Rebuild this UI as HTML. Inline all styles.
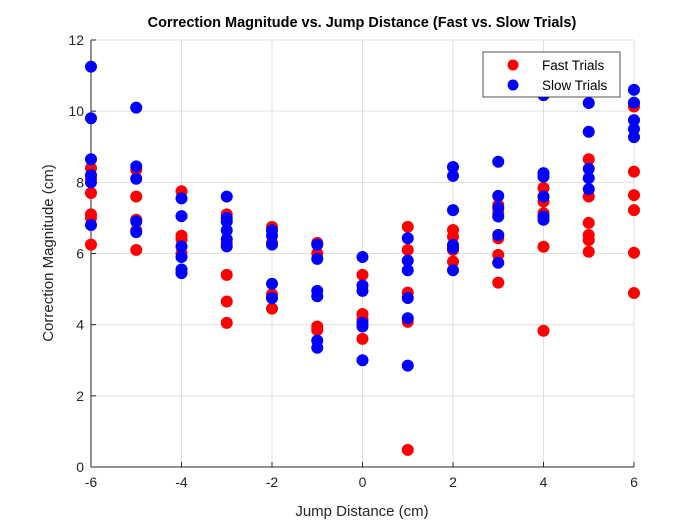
<!DOCTYPE html>
<html><head><meta charset="utf-8"><style>
body{margin:0;background:#fff;}
svg text{font-family:"Liberation Sans",sans-serif;}
</style></head><body>
<svg id="chart" width="700" height="525" xmlns="http://www.w3.org/2000/svg">
<rect width="700" height="525" fill="#fff"/>
<g id="grid"></g><g id="axes"></g><g id="marks"></g>
<text x="362" y="27" text-anchor="middle" font-size="14.5" font-weight="bold" fill="#000">Correction Magnitude vs. Jump Distance (Fast vs. Slow Trials)</text>
<text x="362" y="516" text-anchor="middle" font-size="15" fill="#262626">Jump Distance (cm)</text>
<text transform="translate(53,253) rotate(-90)" text-anchor="middle" font-size="15" fill="#262626">Correction Magnitude (cm)</text>
<g>
<rect x="483" y="52" width="137" height="45" fill="#fff" stroke="#262626" stroke-width="0.8"/>
<circle cx="513" cy="65" r="5.5" fill="#f00"/>
<text x="542" y="70" font-size="13.5" fill="#000">Fast Trials</text>
<circle cx="513" cy="85" r="5.5" fill="#00f"/>
<text x="542" y="90" font-size="13.5" fill="#000">Slow Trials</text>
</g>
</svg>
<script>
const fastX=[-6,-6,-6,-6,-6,-6,-5,-5,-5,-5,-5,-4,-4,-4,-4,-3,-3,-3,-3,-3,-2,-2,-2,-2,-1,-1,-1,-1,0,0,0,0,1,1,1,1,1,2,2,2,2,3,3,3,3,3,4,4,4,4,4,5,5,5,5,5,5,6,6,6,6,6,6];
const fastY=[8.4,8.1,7.7,7.1,7.0,6.25,8.35,7.6,6.95,6.65,6.1,7.75,6.5,6.4,6.0,7.1,6.3,5.4,4.65,4.05,6.75,6.3,4.85,4.45,6.3,6.0,3.95,3.85,5.4,4.3,4.15,3.6,6.75,6.1,4.9,4.08,0.48,6.66,6.47,6.1,5.77,7.36,7.13,6.43,5.96,5.18,7.84,7.46,7.13,6.19,3.83,8.65,7.6,6.86,6.52,6.38,6.05,10.13,8.3,7.64,7.22,6.02,4.89];
const slowX=[-6,-6,-6,-6,-6,-6,-5,-5,-5,-5,-5,-4,-4,-4,-4,-4,-4,-3,-3,-3,-3,-3,-3,-2,-2,-2,-2,-2,-1,-1,-1,-1,-1,-1,0,0,0,0,0,0,1,1,1,1,1,1,2,2,2,2,2,2,3,3,3,3,3,3,4,4,4,4,4,4,5,5,5,5,5,6,6,6,6,6];
const slowY=[11.25,9.8,8.65,8.2,8.0,6.8,10.1,8.45,8.1,6.9,6.6,7.55,7.05,6.2,5.9,5.55,5.45,7.6,7.0,6.9,6.65,6.4,6.2,6.65,6.5,6.25,5.15,4.75,6.25,5.85,4.95,4.8,3.55,3.35,5.9,5.1,4.95,4.05,3.95,3.0,6.43,5.8,5.53,4.75,4.18,2.85,8.43,8.18,7.22,6.24,6.15,5.53,8.58,7.62,7.28,7.04,6.52,5.74,10.45,8.26,8.16,7.6,7.04,6.95,10.23,9.42,8.38,8.12,7.81,10.6,10.24,9.75,9.5,9.27];
const xTicks=[-6,-4,-2,0,2,4,6];
const yTicks=[0,2,4,6,8,10,12];
const X0=91,X1=634,Y0=467,Y1=40;
const sx=v=>X0+(v+6)/12*(X1-X0);
const sy=v=>Y0-v/12*(Y0-Y1);
const NS='http://www.w3.org/2000/svg';
function mk(tag,attrs,parent,text){const e=document.createElementNS(NS,tag);for(const k in attrs)e.setAttribute(k,attrs[k]);if(text!==undefined)e.textContent=text;parent.appendChild(e);return e;}
const grid=document.getElementById('grid'),axes=document.getElementById('axes'),marks=document.getElementById('marks');
xTicks.forEach(t=>{
 const g=mk('line',{x1:sx(t),x2:sx(t),y1:Y1,y2:Y0,stroke:'#dfdfdf','stroke-width':1},grid);
 
 
 const tk=mk('line',{x1:sx(t),x2:sx(t),y1:Y0,y2:Y0-5,stroke:'#262626'},axes);
 
 
 const l=mk('text',{x:sx(t),y:Y0+20,'text-anchor':'middle','font-size':14,fill:'#262626'},axes,String(t));
 
 
});
yTicks.forEach(t=>{
 const g=mk('line',{x1:X0,x2:X1,y1:sy(t),y2:sy(t),stroke:'#dfdfdf','stroke-width':1},grid);
 
 
 const tk=mk('line',{x1:X0,x2:X0+5,y1:sy(t),y2:sy(t),stroke:'#262626'},axes);
 
 
 const l=mk('text',{x:X0-7,y:sy(t)+5,'text-anchor':'end','font-size':14,fill:'#262626'},axes,String(t));
 
 
});
const xa=mk('line',{x1:X0,x2:X1,y1:Y0,y2:Y0,stroke:'#262626'},axes);


const ya=mk('line',{x1:X0,x2:X0,y1:Y1,y2:Y0,stroke:'#262626'},axes);


fastX.forEach((x,i)=>{
 const c=mk('circle',{cx:sx(x),cy:sy(fastY[i]),r:6,fill:'#f00'},marks);
 
 
});
slowX.forEach((x,i)=>{
 const c=mk('circle',{cx:sx(x),cy:sy(slowY[i]),r:6,fill:'#00f'},marks);
 
 
});
</script>
</body></html>
